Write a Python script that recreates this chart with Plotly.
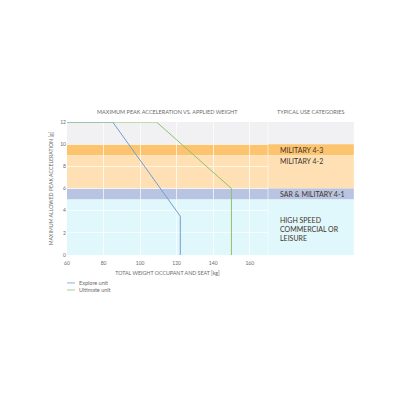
import plotly.graph_objects as go

# weight [kg] vs max allowed peak acceleration [g]
explore_weight = [60, 85, 122, 122]
explore_accel = [12, 12, 3.5, 0]
ultimate_weight = [60, 109, 150, 150]
ultimate_accel = [12, 12, 6, 0]

# use category bands (lower, upper, colour)
band_low = [10, 9, 6, 5, 0]
band_high = [12, 10, 9, 6, 5]
band_colors = ['#f1f1f3', '#fcc46f', '#fee0b4', '#b9c4e2', '#e0f7fc']

category_labels = ['MILITARY 4-3', 'MILITARY 4-2', 'SAR &amp; MILITARY 4-1',
                   'HIGH SPEED<br>COMMERCIAL OR<br>LEISURE']
category_y = [9.5, 8.45, 5.5, 2.35]

x_ticks = [60, 80, 100, 120, 140, 160]
y_ticks = [0, 2, 4, 6, 8, 10, 12]

BLUE = '#6f9fd3'
GREEN = '#8fc26c'
TXT = '#6b6b6b'
FONT = 'Lato'

fig = go.Figure()
fig.add_trace(go.Scatter(x=explore_weight, y=explore_accel, mode='lines',
                         line=dict(color=BLUE, width=1), name='Explore unit'))
fig.add_trace(go.Scatter(x=ultimate_weight, y=ultimate_accel, mode='lines',
                         line=dict(color=GREEN, width=1), name='Ultimate unit'))

shapes = []
for lo, hi, c in zip(band_low, band_high, band_colors):
    shapes.append(dict(type='rect', xref='paper', yref='y', x0=0, x1=1.427,
                       y0=lo, y1=hi, fillcolor=c, line=dict(width=0), layer='below'))
shapes.append(dict(type='line', xref='paper', yref='y', x0=1, x1=1, y0=0, y1=12,
                   line=dict(color='rgba(255,255,255,0.7)', width=0.8), layer='below'))

annotations = [
    dict(text='MAXIMUM PEAK ACCELERATION VS. APPLIED WEIGHT', xref='paper', yref='paper',
         x=0.5, y=1.075, yanchor='middle', showarrow=False,
         font=dict(size=5.5, color=TXT, family=FONT)),
    dict(text='TYPICAL USE CATEGORIES', xref='paper', yref='paper',
         x=1.215, y=1.075, xanchor='center', yanchor='middle', showarrow=False,
         font=dict(size=5.5, color=TXT, family=FONT)),
]
for lab, yy in zip(category_labels, category_y):
    annotations.append(dict(text=lab, xref='paper', yref='y', x=1.05, y=yy,
                            xanchor='left', yanchor='middle', align='left',
                            showarrow=False,
                            font=dict(size=7, color='#3f3427', family=FONT)))

# hand drawn legend under the axis title
legend_names = ['Explore unit', 'Ultimate unit']
legend_colors = [BLUE, GREEN]
for i, (nm, c) in enumerate(zip(legend_names, legend_colors)):
    yy = -0.21 - i * 0.053
    shapes.append(dict(type='line', xref='paper', yref='paper', x0=0.0, x1=0.04,
                       y0=yy, y1=yy, line=dict(color=c, width=0.8)))
    annotations.append(dict(text=nm, xref='paper', yref='paper', x=0.05, y=yy,
                            xanchor='left', yanchor='middle', showarrow=False,
                            font=dict(size=5.5, color=TXT, family=FONT)))

# page body adds 8px offset, so margins are shifted by that
fig.update_layout(
    width=400, height=400, autosize=False,
    margin=dict(l=59, r=140, t=114, b=153),
    paper_bgcolor='white', plot_bgcolor='rgba(0,0,0,0)',
    showlegend=False,
    shapes=shapes, annotations=annotations,
    font=dict(family=FONT, color=TXT),
)
fig.update_xaxes(range=[60, 170], tickvals=x_ticks, showgrid=True,
                 gridcolor='rgba(255,255,255,0.7)', gridwidth=0.8, zeroline=False,
                 ticks='outside', ticklen=3, tickcolor='rgba(0,0,0,0)',
                 tickfont=dict(size=5, color=TXT),
                 title=dict(text='TOTAL WEIGHT OCCUPANT AND SEAT [kg]', standoff=6,
                            font=dict(size=5.3, color=TXT)))
fig.update_yaxes(range=[0, 12], tickvals=y_ticks, showgrid=True,
                 gridcolor='rgba(255,255,255,0.7)', gridwidth=0.8, zeroline=False,
                 tickfont=dict(size=5, color=TXT),
                 title=dict(text='MAXIMUM ALLOWED PEAK ACCELERATION [g]', standoff=6,
                            font=dict(size=5.2, color=TXT)))

fig.write_html("out.html")
